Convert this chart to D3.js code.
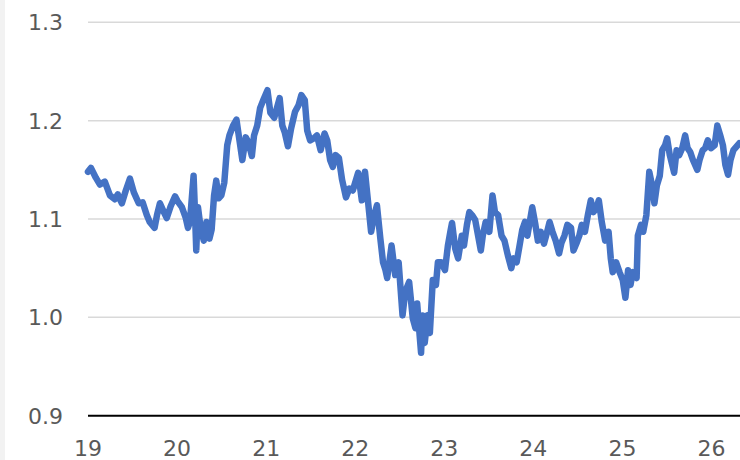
<!DOCTYPE html>
<html>
<head>
<meta charset="utf-8">
<script src="https://cdn.jsdelivr.net/npm/d3@7"></script>
<style>
  html, body { margin: 0; padding: 0; background: #fff; }
  svg { display: block; }
  .tick-label { font-family: "DejaVu Sans", Verdana, sans-serif; font-size: 22px; fill: #595959; }
</style>
</head>
<body>
<svg id="chart" width="740" height="460"></svg>
<script>
// EUR/USD, Jan 2019 – Apr 2026
const dates = [
  "2019-01-01","2019-01-13","2019-02-02","2019-02-19","2019-03-11","2019-04-01","2019-04-21","2019-05-03",
  "2019-05-20","2019-06-05","2019-06-22","2019-07-08","2019-07-28","2019-08-13","2019-08-30","2019-09-11",
  "2019-10-01","2019-10-11","2019-10-23","2019-11-08","2019-11-20","2019-12-06","2019-12-24","2020-01-04",
  "2020-01-21","2020-02-06","2020-02-15","2020-02-23","2020-03-09","2020-03-13","2020-03-20","2020-03-27",
  "2020-04-08","2020-04-20","2020-05-01","2020-05-13","2020-05-22","2020-06-01","2020-06-10","2020-06-20",
  "2020-07-01","2020-07-13","2020-07-25","2020-08-03","2020-08-18","2020-09-01","2020-09-12","2020-09-25",
  "2020-10-09","2020-10-20","2020-11-03","2020-11-12","2020-11-25","2020-12-07","2020-12-20","2021-01-06",
  "2021-01-18","2021-02-03","2021-02-25","2021-03-08","2021-03-18","2021-03-31","2021-04-13","2021-04-29",
  "2021-05-14","2021-05-25","2021-06-08","2021-06-18","2021-06-30","2021-07-15","2021-07-28","2021-08-12",
  "2021-08-28","2021-09-08","2021-09-20","2021-10-01","2021-10-12","2021-10-26","2021-11-08","2021-11-24",
  "2021-12-08","2021-12-22","2022-01-13","2022-01-28","2022-02-10","2022-02-24","2022-03-07","2022-03-20",
  "2022-03-31","2022-04-14","2022-04-25","2022-05-05","2022-05-12","2022-05-30","2022-06-14","2022-06-28",
  "2022-07-14","2022-07-25","2022-08-10","2022-08-25","2022-09-05","2022-09-12","2022-09-22","2022-09-28",
  "2022-10-04","2022-10-13","2022-10-25","2022-11-03","2022-11-15","2022-11-28","2022-12-06","2022-12-20",
  "2023-01-04","2023-01-16","2023-01-26","2023-02-02","2023-02-15","2023-02-27","2023-03-14","2023-03-23",
  "2023-04-04","2023-04-14","2023-04-25","2023-05-08","2023-05-31","2023-06-08","2023-06-20","2023-07-05",
  "2023-07-18","2023-07-28","2023-08-10","2023-08-24","2023-09-05","2023-09-19","2023-10-03","2023-10-12",
  "2023-10-25","2023-11-06","2023-11-17","2023-11-28","2023-12-08","2023-12-28","2024-01-10","2024-01-20",
  "2024-02-01","2024-02-14","2024-02-27","2024-03-08","2024-03-20","2024-04-02","2024-04-16","2024-04-26",
  "2024-05-08","2024-05-20","2024-06-04","2024-06-14","2024-06-26","2024-07-08","2024-07-18","2024-07-31",
  "2024-08-12","2024-08-24","2024-09-04","2024-09-16","2024-09-26","2024-10-08","2024-10-22","2024-11-05",
  "2024-11-14","2024-11-22","2024-12-06","2024-12-20","2025-01-02","2025-01-13","2025-01-24","2025-02-03",
  "2025-02-12","2025-02-28","2025-03-05","2025-03-18","2025-03-27","2025-04-09","2025-04-21","2025-04-30",
  "2025-05-12","2025-05-22","2025-06-03","2025-06-13","2025-06-25","2025-07-03","2025-07-14","2025-08-01",
  "2025-08-11","2025-08-22","2025-09-03","2025-09-15","2025-09-25","2025-10-06","2025-10-17","2025-11-04",
  "2025-11-13","2025-11-26","2025-12-06","2025-12-17","2025-12-30","2026-01-14","2026-01-25","2026-02-06",
  "2026-02-17","2026-02-27","2026-03-10","2026-03-20","2026-04-01","2026-04-25"
];
const rates = [
  1.148,1.152,1.142,1.135,1.138,1.124,1.120,1.125,
  1.116,1.129,1.141,1.127,1.116,1.117,1.104,1.097,
  1.091,1.104,1.116,1.107,1.101,1.113,1.123,1.118,
  1.112,1.101,1.091,1.097,1.144,1.119,1.068,1.112,
  1.089,1.078,1.097,1.080,1.089,1.124,1.139,1.121,
  1.124,1.137,1.175,1.185,1.195,1.201,1.182,1.160,
  1.183,1.178,1.164,1.185,1.195,1.213,1.221,1.231,
  1.208,1.203,1.223,1.195,1.188,1.174,1.192,1.209,
  1.216,1.226,1.221,1.190,1.180,1.182,1.185,1.170,
  1.187,1.180,1.160,1.153,1.165,1.162,1.140,1.122,
  1.131,1.129,1.147,1.119,1.148,1.114,1.087,1.104,
  1.114,1.080,1.056,1.048,1.040,1.073,1.043,1.056,
  1.002,1.026,1.036,0.999,0.989,1.014,0.982,0.964,
  1.002,0.974,1.002,0.984,1.038,1.033,1.056,1.056,
  1.048,1.073,1.087,1.096,1.070,1.060,1.083,1.073,
  1.094,1.107,1.104,1.099,1.068,1.083,1.097,1.087,
  1.124,1.107,1.104,1.083,1.078,1.063,1.050,1.060,
  1.056,1.073,1.089,1.097,1.083,1.112,1.094,1.078,
  1.087,1.075,1.087,1.097,1.087,1.078,1.065,1.076,
  1.083,1.094,1.091,1.068,1.075,1.083,1.094,1.087,
  1.104,1.119,1.107,1.111,1.119,1.097,1.078,1.087,
  1.060,1.046,1.056,1.046,1.038,1.020,1.048,1.033,
  1.046,1.040,1.083,1.094,1.087,1.104,1.148,1.137,
  1.116,1.134,1.144,1.170,1.175,1.182,1.165,1.147,
  1.170,1.165,1.172,1.185,1.172,1.168,1.160,1.150,
  1.160,1.170,1.172,1.180,1.172,1.175,1.195,1.185,
  1.175,1.155,1.145,1.160,1.170,1.177
];
const yTicks = [0.9, 1.0, 1.1, 1.2, 1.3];
const xTickYears = ["2019","2020","2021","2022","2023","2024","2025","2026"];

const parse = d3.timeParse("%Y-%m-%d");
const series = dates.map((d, i) => ({ date: parse(d), value: rates[i] }));

const svg = d3.select("#chart");
const H = 460;
const plotLeft = 88, plotRight = 740, plotTop = 22.3, plotBottom = 415.7;

// light gray strip on the left edge
svg.append("rect").attr("x", 0).attr("y", 0).attr("width", 5).attr("height", H).attr("fill", "#f2f2f2");

const x = d3.scaleTime()
  .domain([parse("2019-01-01"), parse("2026-04-28")])
  .range([plotLeft, plotRight]);
const y = d3.scaleLinear().domain([0.9, 1.3]).range([plotBottom, plotTop]);

// gridlines
svg.append("g")
  .selectAll("line")
  .data(yTicks.filter(t => t > 0.9))
  .join("line")
  .attr("x1", plotLeft).attr("x2", plotRight)
  .attr("y1", d => y(d)).attr("y2", d => y(d))
  .attr("stroke", "#d9d9d9").attr("stroke-width", 1.5);

// y labels
svg.append("g")
  .selectAll("text")
  .data(yTicks)
  .join("text")
  .attr("class", "tick-label")
  .attr("x", 63)
  .attr("y", d => y(d))
  .attr("dy", "0.36em")
  .attr("text-anchor", "end")
  .text(d => d.toFixed(1));

// x labels (year, two digits)
svg.append("g")
  .selectAll("text")
  .data(xTickYears.map(s => parse(s + "-01-01")))
  .join("text")
  .attr("class", "tick-label")
  .attr("x", d => x(d))
  .attr("y", 456)
  .attr("text-anchor", "middle")
  .text(d3.timeFormat("%y"));

// series line
const line = d3.line()
  .x(d => x(d.date))
  .y(d => y(d.value));

svg.append("path")
  .datum(series)
  .attr("fill", "none")
  .attr("stroke", "#4472c4")
  .attr("stroke-width", 6.5)
  .attr("stroke-linejoin", "round")
  .attr("stroke-linecap", "round")
  .attr("d", line);

// baseline axis
svg.append("line")
  .attr("x1", plotLeft).attr("x2", plotRight)
  .attr("y1", y(0.9)).attr("y2", y(0.9))
  .attr("stroke", "#000").attr("stroke-width", 2);
</script>
</body>
</html>
